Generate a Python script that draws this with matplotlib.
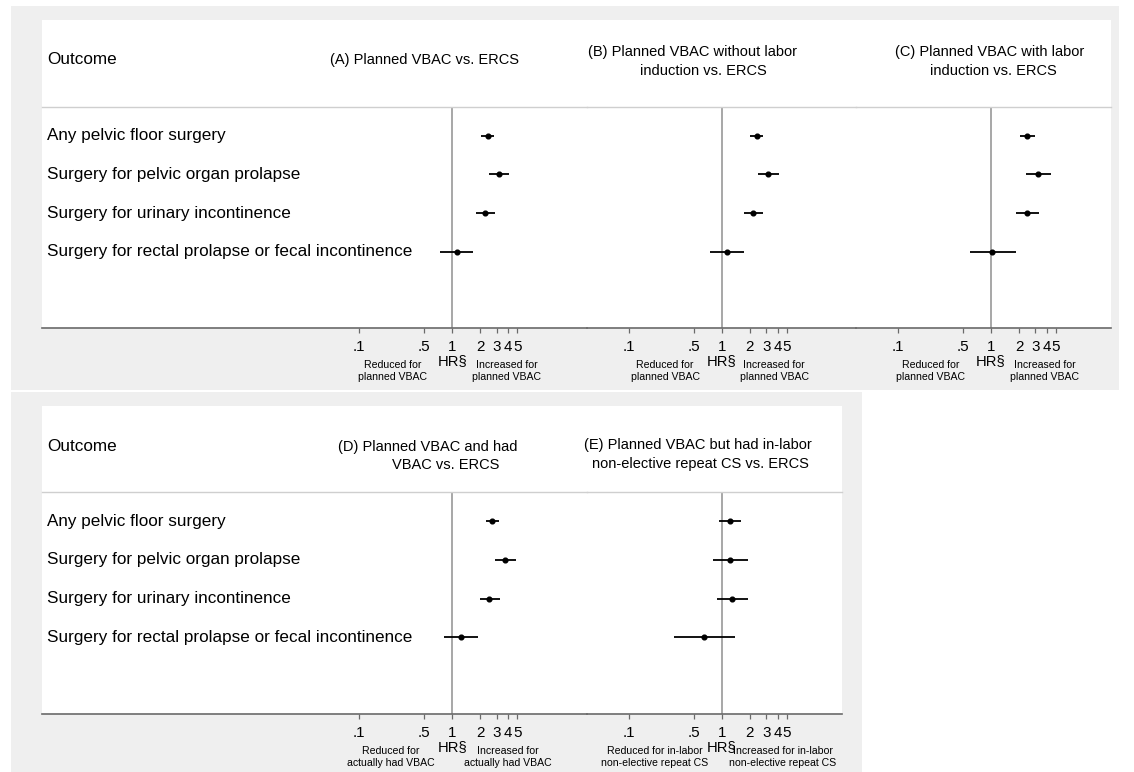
import numpy as np
import matplotlib
matplotlib.use("Agg")
import matplotlib.pyplot as plt
from matplotlib.patches import Rectangle
from matplotlib import transforms

plt.rcParams['font.family'] = ['Liberation Sans', 'DejaVu Sans']

W, H = 1134, 772

outcomes = ["Any pelvic floor surgery",
            "Surgery for pelvic organ prolapse",
            "Surgery for urinary incontinence",
            "Surgery for rectal prolapse or fecal incontinence"]

tick_vals = [0.1, 0.5, 1, 2, 3, 4, 5]
tick_labels = [".1", ".5", "1", "2", "3", "4", "5"]

# hazard ratios and 95% CI
hr_a = [2.40, 3.18, 2.26, 1.12]
lo_a = [2.04, 2.48, 1.79, 0.74]
hi_a = [2.79, 4.10, 2.86, 1.68]

hr_b = [2.38, 3.15, 2.19, 1.14]
lo_b = [2.02, 2.46, 1.74, 0.74]
hi_b = [2.76, 4.10, 2.78, 1.74]

hr_c = [2.46, 3.20, 2.46, 1.03]
lo_c = [2.04, 2.40, 1.86, 0.59]
hi_c = [2.97, 4.45, 3.26, 1.84]

hr_d = [2.69, 3.69, 2.50, 1.24]
lo_d = [2.30, 2.86, 1.99, 0.81]
hi_d = [3.20, 4.81, 3.23, 1.89]

hr_e = [1.22, 1.24, 1.30, 0.64]
lo_e = [0.94, 0.81, 0.89, 0.31]
hi_e = [1.60, 1.90, 1.90, 1.40]

titles_a = ["(A) Planned VBAC vs. ERCS"]
titles_b = ["(B) Planned VBAC without labor", "induction vs. ERCS"]
titles_c = ["(C) Planned VBAC with labor", "induction vs. ERCS"]
titles_d = ["(D) Planned VBAC and had", "VBAC vs. ERCS"]
titles_e = ["(E) Planned VBAC but had in-labor", "non-elective repeat CS vs. ERCS"]

reduced_std = ["Reduced for", "planned VBAC"]
increased_std = ["Increased for", "planned VBAC"]
reduced_d = ["Reduced for", "actually had VBAC"]
increased_d = ["Increased for", "actually had VBAC"]
reduced_e = ["Reduced for in-labor", "non-elective repeat CS"]
increased_e = ["Increased for in-labor", "non-elective repeat CS"]

DECADE = 93.0  # pixels per decade on the log axis


def fx(x):
    return x / W


def fy(y):
    return 1 - y / H


fig = plt.figure(figsize=(W / 100, H / 100), dpi=100)
fig.patch.set_facecolor("white")


def rect(x0, y0, x1, y1, color):
    fig.patches.append(Rectangle((fx(x0), fy(y1)), fx(x1) - fx(x0), fy(y0) - fy(y1),
                                 transform=fig.transFigure, facecolor=color,
                                 edgecolor="none", zorder=-10))


# background blocks (graph region grey, plot region white)
rect(10.7, 6, 1118.6, 390, "#efefef")
rect(41.8, 20, 1111, 328, "white")
rect(10.7, 392, 862, 772, "#efefef")
rect(41.8, 406, 842, 714, "white")


def panel(x0, x1, y_head, y_axis, one_px, hr, lo, hi, title_lines, title_pos,
          reduced, increased, red_x, inc_x):
    ax = fig.add_axes([fx(x0), fy(y_axis), fx(x1) - fx(x0), fy(y_head) - fy(y_axis)])
    ax.set_facecolor("none")
    ax.set_xscale("log")
    ax.set_xlim(10 ** ((x0 - one_px) / DECADE), 10 ** ((x1 - one_px) / DECADE))
    ax.set_ylim(5.98, 0.25)
    rows = np.arange(1, len(hr) + 1)
    ax.axvline(1, color="#8f8f8f", lw=1.1, zorder=1)
    ax.hlines(rows, lo, hi, color="black", lw=1.3, zorder=2)
    ax.plot(hr, rows, "o", color="black", ms=3.4, zorder=3)
    for s in ["left", "right"]:
        ax.spines[s].set_visible(False)
    ax.spines["top"].set_color("#cfcfcf")
    ax.spines["top"].set_linewidth(1.0)
    ax.spines["bottom"].set_color("#6a6a6a")
    ax.spines["bottom"].set_linewidth(1.2)
    ax.set_yticks([])
    ax.set_xticks(tick_vals)
    ax.set_xticklabels(tick_labels, fontsize=10.9)
    ax.xaxis.set_minor_locator(matplotlib.ticker.NullLocator())
    ax.tick_params(axis="x", length=3.5, width=0.9, color="#6a6a6a", pad=4.8)

    for (txt, (tx, ty)) in zip(title_lines, title_pos):
        fig.text(fx(tx), fy(ty), txt, ha="center", va="center", fontsize=10.5)
    trans = transforms.blended_transform_factory(ax.transData, fig.transFigure)
    ax.text(1, fy(y_axis + 33), "HR\u00a7", transform=trans, ha="center", va="center",
            fontsize=10.6, clip_on=False)
    for i, (r, c) in enumerate(zip(reduced, increased)):
        yy = fy(y_axis + 36.5 + 12.3 * i)
        fig.text(fx(red_x), yy, r, ha="center", va="center", fontsize=7.6)
        fig.text(fx(inc_x), yy, c, ha="center", va="center", fontsize=7.6)
    return ax


# top row
ax_a = panel(41.8, 587, 107, 328, 452.3, hr_a, lo_a, hi_a, titles_a, [(424.5, 60)],
             reduced_std, increased_std, 393, 507)
panel(587, 856, 107, 328, 721.7, hr_b, lo_b, hi_b, titles_b, [(693, 52), (703, 71)],
      reduced_std, increased_std, 665, 774)
panel(856, 1111, 107, 328, 991.0, hr_c, lo_c, hi_c, titles_c, [(989.5, 52), (993.5, 71)],
      reduced_std, increased_std, 931, 1045)

# bottom row
ax_d = panel(41.8, 587, 492, 714, 452.3, hr_d, lo_d, hi_d, titles_d, [(428, 447), (446, 465)],
             reduced_d, increased_d, 391, 508)
panel(587, 842, 492, 714, 721.7, hr_e, lo_e, hi_e, titles_e, [(698, 445), (700, 464)],
      reduced_e, increased_e, 655, 783)

# outcome labels
for ax, head_y in [(ax_a, 60), (ax_d, 446)]:
    fig.text(fx(46.8), fy(head_y), "Outcome", ha="left", va="center", fontsize=12.3)
    trans = transforms.blended_transform_factory(fig.transFigure, ax.transData)
    for i, name in enumerate(outcomes):
        ax.text(fx(46.8), i + 1, name, transform=trans, ha="left", va="center",
                fontsize=12.3, clip_on=False)

fig.savefig("out.png", dpi=100)
